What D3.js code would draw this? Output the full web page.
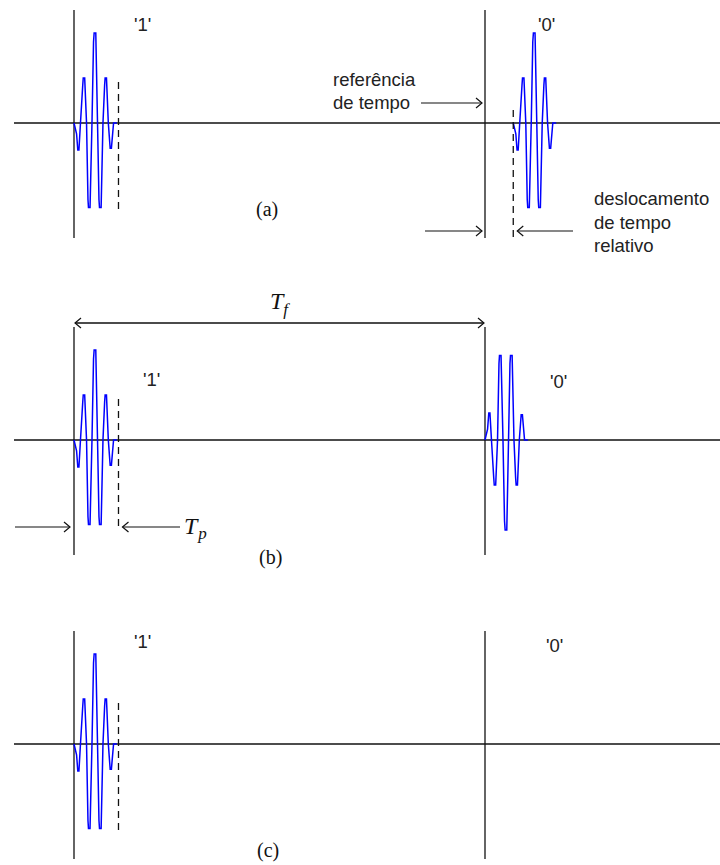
<!DOCTYPE html>
<html>
<head>
<meta charset="utf-8">
<script src="https://cdn.jsdelivr.net/npm/d3@7"></script>
<style>
  body { margin: 0; background: #fff; }
  .lbl { font-family: "Liberation Sans", Arial, sans-serif; font-size: 18.5px; fill: #222; }
  .cap { font-family: "Liberation Serif", "Times New Roman", serif; font-size: 20px; fill: #111; }
  .math { font-family: "Liberation Serif", "Times New Roman", serif; font-style: italic; fill: #111; }
</style>
</head>
<body>
<svg></svg>
<script>
// data (time in arbitrary units, amplitude normalised to main lobe)
var panelNames = ["(a)", "(b)", "(c)"];
var bitNames = ["'1'", "'0'"];
var Tf = 40;        // frame length
var Tp = 4.33;      // pulse width
var ppmShift = 2.75; // relative time shift of '0' in (a)
// monocycle-like pulse
var pulseT = [0, 0.25, 0.37, 0.48, 0.63, 0.85, 0.9, 1.04, 1.22, 1.36, 1.41, 1.56, 1.75, 1.9, 1.96, 2.12, 2.29, 2.43, 2.48, 2.64, 2.82, 2.98, 3.03, 3.16, 3.34, 3.52, 3.64, 3.85, 4.18];
var pulseA = [0, -0.12, -0.3, -0.3, 0, 0.42, 0.5, 0.5, 0, -0.85, -0.94, -0.94, 0, 0.9, 1.0, 1.0, 0, -0.85, -0.94, -0.94, 0, 0.42, 0.5, 0.5, 0, -0.28, -0.28, 0, 0];
// how each bit is sent in each panel: polarity (0 = no pulse) and time offset
var oneSign = [1, 1, 1];
var zeroSign = [1, -1, 0];
var zeroOffset = [ppmShift, 0, 0];

window.onload = function() {
  var svg = d3.select("svg")
    .attr("width", 720)
    .attr("height", 865);

  var x = d3.scaleLinear().domain([0, Tf]).range([74, 485]);
  var axisY = [123, 440, 744];
  var pulse = pulseT.map(function(t, i) { return [t, pulseA[i]]; });

  function arrow(x1, x2, y) {
    var dir = x2 > x1 ? 1 : -1;
    svg.append("line").attr("x1", x1).attr("x2", x2).attr("y1", y).attr("y2", y)
      .attr("stroke", "#111").attr("stroke-width", 1.2);
    svg.append("path")
      .attr("d", "M" + (x2 - dir * 6) + "," + (y - 5) + "L" + x2 + "," + y + "L" + (x2 - dir * 6) + "," + (y + 5))
      .attr("fill", "none").attr("stroke", "#111").attr("stroke-width", 1.2);
  }

  panelNames.forEach(function(name, p) {
    var ay = axisY[p];
    var y = d3.scaleLinear().domain([-1, 1]).range([ay + 90, ay - 90]);
    var g = svg.append("g");

    // time axis
    g.append("line").attr("x1", 14).attr("x2", 720).attr("y1", ay).attr("y2", ay)
      .attr("stroke", "#111").attr("stroke-width", 1.3);
    // frame boundaries
    [0, Tf].forEach(function(t) {
      g.append("line").attr("x1", x(t)).attr("x2", x(t)).attr("y1", ay - 113).attr("y2", ay + 115)
        .attr("stroke", "#111").attr("stroke-width", 1.3);
    });

    // pulses
    var drawPulse = function(start, sign) {
      var line = d3.line()
        .x(function(d) { return x(start + d[0]); })
        .y(function(d) { return y(sign * d[1]); });
      g.append("path").datum(pulse).attr("d", line)
        .attr("fill", "none").attr("stroke", "#0000ff").attr("stroke-width", 1.5);
    };
    drawPulse(0, oneSign[p]);
    if (zeroSign[p] !== 0) drawPulse(Tf + zeroOffset[p], zeroSign[p]);

    // end of pulse marker
    g.append("line").attr("x1", x(Tp)).attr("x2", x(Tp)).attr("y1", ay - 41).attr("y2", ay + 89)
      .attr("stroke", "#111").attr("stroke-width", 1.3).attr("stroke-dasharray", "7,5");

    // bit labels
    var oneX = [134, 143, 134], oneY = [31, 386, 648];
    var zeroX = [538, 550, 546], zeroY = [31, 388, 652];
    g.append("text").attr("class", "lbl").attr("x", oneX[p]).attr("y", oneY[p]).text(bitNames[0]);
    g.append("text").attr("class", "lbl").attr("x", zeroX[p]).attr("y", zeroY[p]).text(bitNames[1]);

    var capX = [256, 259, 257], capY = [216, 564, 857];
    g.append("text").attr("class", "cap").attr("x", capX[p]).attr("y", capY[p]).text(name);
  });

  // (a) annotations
  svg.append("line").attr("x1", x(Tf + ppmShift)).attr("x2", x(Tf + ppmShift))
    .attr("y1", axisY[0] - 13).attr("y2", axisY[0] + 115)
    .attr("stroke", "#111").attr("stroke-width", 1.3).attr("stroke-dasharray", "7,5");
  svg.append("text").attr("class", "lbl").attr("x", 333).attr("y", 86).text("referência");
  svg.append("text").attr("class", "lbl").attr("x", 333).attr("y", 109).text("de tempo");
  arrow(421, x(Tf) - 3, 103);
  arrow(425, x(Tf) - 3, 231);
  arrow(573, x(Tf + ppmShift) + 4, 231);
  ["deslocamento", "de tempo", "relativo"].forEach(function(s, i) {
    svg.append("text").attr("class", "lbl").attr("x", 594).attr("y", 205 + i * 23.5).text(s);
  });

  // (b) annotations
  arrow(x(Tf) - 2, x(0) + 1, 323);
  arrow(x(0) + 1, x(Tf) - 1, 323);
  var tf = svg.append("text").attr("class", "math").attr("x", 270).attr("y", 309).style("font-size", "24px");
  tf.append("tspan").text("T");
  tf.append("tspan").attr("dx", 0).attr("dy", 6).style("font-size", "17px").text("f");
  arrow(15, x(0) - 4, 527);
  arrow(180, x(Tp) + 4, 527);
  var tp = svg.append("text").attr("class", "math").attr("x", 184).attr("y", 534).style("font-size", "24px");
  tp.append("tspan").text("T");
  tp.append("tspan").attr("dx", 1).attr("dy", 5).style("font-size", "17px").text("p");
};
</script>
</body>
</html>
